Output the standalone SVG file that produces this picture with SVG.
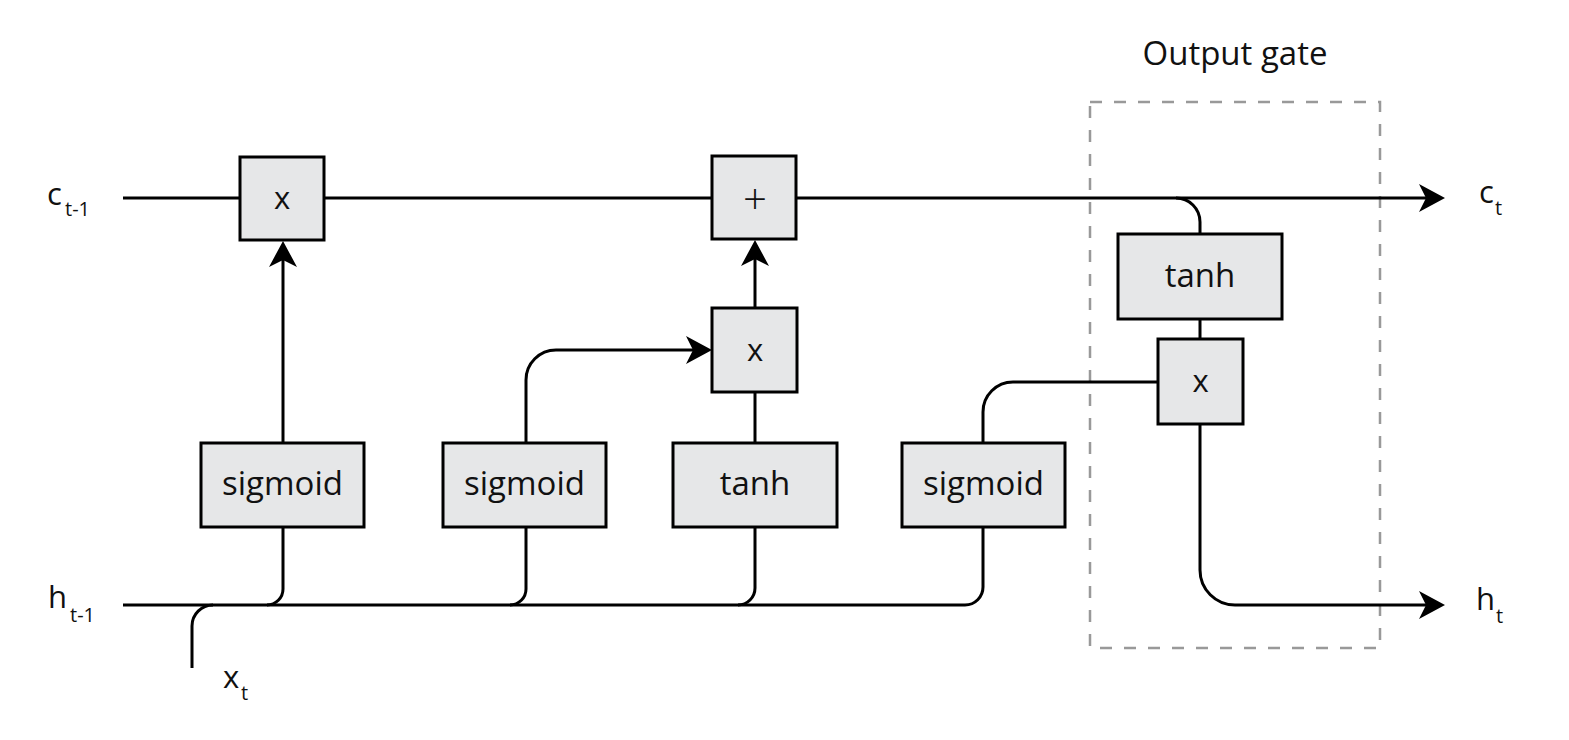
<svg xmlns="http://www.w3.org/2000/svg" width="1569" height="740" viewBox="0 0 1569 740">
<style>
.box{fill:#e6e7e8;stroke:#000;stroke-width:3}
.ln{fill:none;stroke:#000;stroke-width:3}
.t{font-family:"Open Sans","Noto Sans",sans-serif;fill:#111}
.bt{font-size:33px;text-anchor:middle}
.op{font-size:31px;text-anchor:middle}
.lb{font-size:31px}
.sb{font-size:20px}
</style>
<defs>
<marker id="arr" markerUnits="userSpaceOnUse" markerWidth="30" markerHeight="30" viewBox="0 0 30 30" refX="16" refY="15" orient="auto">
<path d="M0,1 L26,15 L0,29 L7,15 Z" fill="#000"/>
</marker>
</defs>
<rect width="1569" height="740" fill="#fff"/>
<g id="output-gate">
<rect x="1090" y="102" width="290" height="546" fill="none" stroke="#999" stroke-width="2.5" stroke-dasharray="12 12"/>
<text class="t" x="1235" y="65" font-size="33" text-anchor="middle">Output gate</text>
</g>
<g id="connectors">
<path class="ln" d="M123,198 H240"/>
<path class="ln" d="M324,198 H711"/>
<path class="ln" d="M796,198 H1435" marker-end="url(#arr)"/>
<path class="ln" d="M1176,198 A24,24 0 0 1 1200,222 V234"/>
<path class="ln" d="M1200,319 V339"/>
<path class="ln" d="M1200,424 V570 A35,35 0 0 0 1235,605 H1435" marker-end="url(#arr)"/>
<path class="ln" d="M123,605 H965 A18,18 0 0 0 983,587 V527"/>
<path class="ln" d="M192,668 V626 A21,21 0 0 1 213,605"/>
<path class="ln" d="M267,605 A16,16 0 0 0 283,589 V527"/>
<path class="ln" d="M283,443 V251" marker-end="url(#arr)"/>
<path class="ln" d="M510,605 A16,16 0 0 0 526,589 V527"/>
<path class="ln" d="M526,443 V380 A30,30 0 0 1 556,350 H702" marker-end="url(#arr)"/>
<path class="ln" d="M738,605 A17,17 0 0 0 755,588 V527"/>
<path class="ln" d="M755,443 V392"/>
<path class="ln" d="M755,308 V250" marker-end="url(#arr)"/>
<path class="ln" d="M983,443 V412 A30,30 0 0 1 1013,382 H1158"/>
</g>
<g id="forget-mult">
<rect class="box" x="240" y="157" width="84" height="83"/>
<text class="t op" x="282" y="209">x</text>
</g>
<g id="cell-add">
<rect class="box" x="712" y="156" width="84" height="83"/>
<text class="t" x="755" y="214" font-size="42" font-weight="300" text-anchor="middle">+</text>
</g>
<g id="input-mult">
<rect class="box" x="712" y="308" width="85" height="84"/>
<text class="t op" x="755" y="361">x</text>
</g>
<g id="sigmoid-forget">
<rect class="box" x="201" y="443" width="163" height="84"/>
<text class="t bt" x="282.5" y="495">sigmoid</text>
</g>
<g id="sigmoid-input">
<rect class="box" x="443" y="443" width="163" height="84"/>
<text class="t bt" x="524.5" y="495">sigmoid</text>
</g>
<g id="tanh-input">
<rect class="box" x="673" y="443" width="164" height="84"/>
<text class="t bt" x="755" y="495">tanh</text>
</g>
<g id="sigmoid-output">
<rect class="box" x="902" y="443" width="163" height="84"/>
<text class="t bt" x="983.5" y="495">sigmoid</text>
</g>
<g id="tanh-output">
<rect class="box" x="1118" y="234" width="164" height="85"/>
<text class="t bt" x="1200" y="287">tanh</text>
</g>
<g id="output-mult">
<rect class="box" x="1158" y="339" width="85" height="85"/>
<text class="t op" x="1200.5" y="392">x</text>
</g>
<g id="labels">
<text class="t lb" x="47" y="205">c</text><text class="t sb" x="65" y="216">t-1</text>
<text class="t lb" x="48" y="608">h</text><text class="t sb" x="70" y="622">t-1</text>
<text class="t lb" x="223" y="688">x</text><text class="t sb" x="241" y="700">t</text>
<text class="t lb" x="1479" y="203">c</text><text class="t sb" x="1495" y="215">t</text>
<text class="t lb" x="1476" y="610">h</text><text class="t sb" x="1496" y="623">t</text>
</g>
</svg>
